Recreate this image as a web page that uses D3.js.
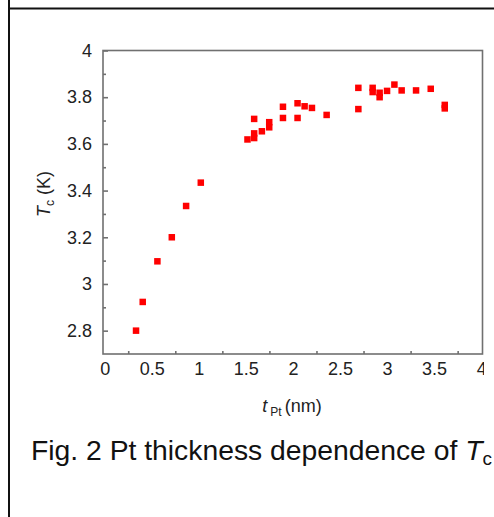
<!DOCTYPE html>
<html>
<head>
<meta charset="utf-8">
<script src="https://cdn.jsdelivr.net/npm/d3@7"></script>
<style>
  html, body { margin: 0; padding: 0; background: #fff; }
  svg { display: block; font-family: "Liberation Sans", Arial, sans-serif; }
</style>
</head>
<body>
<svg id="chart" width="494" height="517"></svg>
<script>
// Data: Pt thickness (nm) vs Tc (K)
const tPt = [0.333, 0.404, 0.56, 0.713, 0.865, 1.021,
  1.517, 1.588, 1.588, 1.588, 1.67, 1.748, 1.748, 1.894, 1.894,
  2.049, 2.049, 2.124, 2.202, 2.358,
  2.695, 2.695, 2.847, 2.847, 2.921, 2.921, 3.0, 3.078, 3.155, 3.308, 3.464, 3.613, 3.613];
const tc = [2.80, 2.923, 3.097, 3.20, 3.334, 3.434,
  3.619, 3.625, 3.645, 3.707, 3.654, 3.671, 3.693, 3.759, 3.711,
  3.774, 3.711, 3.761, 3.754, 3.724,
  3.84, 3.749, 3.84, 3.822, 3.819, 3.80, 3.827, 3.854, 3.829, 3.829, 3.836, 3.767, 3.752];
const xTicks = [0, 0.5, 1, 1.5, 2, 2.5, 3, 3.5, 4];
const xMinor = [0.25, 0.75, 1.25, 1.75, 2.25, 2.75, 3.25, 3.75];
const yTicks = [2.8, 3.0, 3.2, 3.4, 3.6, 3.8, 4.0];
const yMinor = [2.9, 3.1, 3.3, 3.5, 3.7, 3.9];

const svg = d3.select("#chart");
const L = 103, R = 482.5, T = 50.5, B = 354;
const x = d3.scaleLinear().domain([-0.018, 4.014]).range([L, R]);
const y = d3.scaleLinear().domain([2.7, 4.0]).range([B, T]);
const axisColor = "#707070";
const fmt = d => String(+d.toFixed(2));

svg.append("defs").append("clipPath").attr("id", "figclip")
  .append("rect").attr("x", 0).attr("y", 0).attr("width", 484).attr("height", 517);

// outer frame lines
svg.append("line").attr("x1", 9).attr("x2", 9).attr("y1", 0).attr("y2", 517)
  .attr("stroke", "#111").attr("stroke-width", 2);
svg.append("line").attr("x1", 9).attr("x2", 494).attr("y1", 8.5).attr("y2", 8.5)
  .attr("stroke", "#111").attr("stroke-width", 2);

// plot box
svg.append("rect").attr("x", L).attr("y", T).attr("width", R - L).attr("height", B - T)
  .attr("fill", "none").attr("stroke", axisColor).attr("stroke-width", 1.6);

// bottom axis (ticks inward)
const xAxis = svg.append("g").attr("transform", `translate(0,${B})`).attr("clip-path", "url(#figclip)")
  .call(d3.axisBottom(x).tickValues(xTicks).tickFormat(fmt).tickSizeInner(-5).tickSizeOuter(0).tickPadding(8));
xAxis.select(".domain").remove();
xAxis.selectAll(".tick line").attr("stroke", axisColor).attr("stroke-width", 1.6);
xAxis.selectAll("text").attr("font-size", 18).attr("fill", "#222");
const xAxisMinor = svg.append("g").attr("transform", `translate(0,${B})`)
  .call(d3.axisBottom(x).tickValues(xMinor).tickFormat("").tickSizeInner(-3).tickSizeOuter(0));
xAxisMinor.select(".domain").remove();
xAxisMinor.selectAll(".tick line").attr("stroke", axisColor).attr("stroke-width", 1.6);

// left axis (ticks inward)
const yAxis = svg.append("g").attr("transform", `translate(${L},0)`)
  .call(d3.axisLeft(y).tickValues(yTicks).tickFormat(fmt).tickSizeInner(-5).tickSizeOuter(0).tickPadding(11));
yAxis.select(".domain").remove();
yAxis.selectAll(".tick line").attr("stroke", axisColor).attr("stroke-width", 1.6);
yAxis.selectAll("text").attr("font-size", 18).attr("fill", "#222");
const yAxisMinor = svg.append("g").attr("transform", `translate(${L},0)`)
  .call(d3.axisLeft(y).tickValues(yMinor).tickFormat("").tickSizeInner(-3).tickSizeOuter(0));
yAxisMinor.select(".domain").remove();
yAxisMinor.selectAll(".tick line").attr("stroke", axisColor).attr("stroke-width", 1.6);

// points
const s = 6.5;
svg.append("g").selectAll("rect").data(d3.range(tPt.length)).join("rect")
  .attr("x", i => x(tPt[i]) - s / 2).attr("y", i => y(tc[i]) - s / 2)
  .attr("width", s).attr("height", s).attr("fill", "#ff0000");

// x label
const xl = svg.append("text").attr("x", 292).attr("y", 412).attr("text-anchor", "middle")
  .attr("font-size", 18).attr("fill", "#222");
xl.append("tspan").attr("font-style", "italic").text("t");
xl.append("tspan").attr("font-size", 12).attr("dx", 3).attr("dy", 4).text("Pt");
xl.append("tspan").attr("dy", -4).attr("dx", 3).text("(nm)");

// y label
const yl = svg.append("text").attr("transform", "translate(50,194) rotate(-90)")
  .attr("text-anchor", "middle").attr("font-size", 18).attr("fill", "#222");
yl.append("tspan").attr("font-style", "italic").text("T");
yl.append("tspan").attr("font-size", 12).attr("dy", 4).text("c");
yl.append("tspan").attr("dy", -4).text(" (K)");

// caption
const cap = svg.append("text").attr("x", 31).attr("y", 460).attr("font-size", 28.3).attr("fill", "#111");
cap.append("tspan").text("Fig. 2 Pt thickness dependence of ");
cap.append("tspan").attr("font-style", "italic").text("T");
cap.append("tspan").attr("font-size", 19).attr("dy", 5).text("c");
</script>
</body>
</html>
